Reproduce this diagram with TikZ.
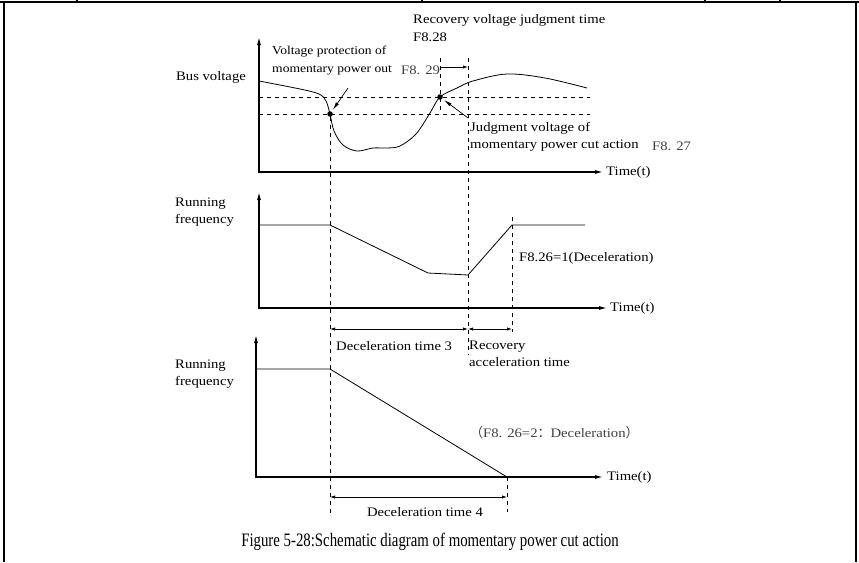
\documentclass[tikz,border=0pt]{standalone}
\usepackage{fontspec}
\setmainfont{Liberation Serif}
\newfontfamily\lblfont[FakeStretch=1.13]{Liberation Serif}
\newfontfamily\capfont[FakeStretch=0.78]{Liberation Serif}
\newfontfamily\cjk{Noto Sans CJK SC}
\usetikzlibrary{arrows,arrows.meta,positioning}

\begin{document}
\begin{tikzpicture}[
        x=1pt, y=-1pt,
        lbl/.style={
            inner sep=0pt,
            align=left,
            font=\lblfont\fontsize{13}{17.5}\selectfont
        },
        smalllbl/.style={
            lbl,
            font=\lblfont\fontsize{12}{18}\selectfont
        },
        note/.style={lbl, text=black!75},
        dot/.style={circle, fill, inner sep=0pt, minimum size=5.5pt},
        axes/.style={draw, line width=1.1pt, {Latex[length=8pt,width=4pt]}-{Latex[length=8pt,width=4pt]}},
        curve/.style={draw, line width=0.8pt},
        guide/.style={draw, line width=0.6pt, dash pattern=on 4pt off 4pt},
        dim/.style={draw, line width=0.7pt, {Latex[length=5pt,width=3.2pt]}-{Latex[length=5pt,width=3.2pt]}},
        pointer/.style={draw, line width=0.7pt, -{Latex[length=8pt,width=3.5pt]}, shorten >=2pt}
    ]
        % -- Ramka (Frame) --
        \useasboundingbox (0,0) rectangle (859,562);
        \draw[line width=2pt] (0,2) -- (859,2);
        \draw[line width=2pt] (4,2) -- (4,562);
        \draw[line width=2pt] (856,2) -- (856,562);
        \foreach \t in {77,422,705,780}
            \draw[line width=1.5pt] (\t,0) -- (\t,2);

        % -- Osie (Axes) --
        \coordinate (v0) at (259,172);
        \coordinate (f0) at (259,308);
        \coordinate (g0) at (256,477);
        \draw[axes] (259,37) -- (v0) -- (603,172) coordinate (vend);
        \draw[axes] (259,192) -- (f0) -- (607,308) coordinate (fend);
        \draw[axes] (256,335) -- (g0) -- (603,477) coordinate (gend);

        \node[lbl, right=3pt of vend] (vtime) {Time(t)};
        \node[lbl, right=3pt of fend] (ftime) {Time(t)};
        \node[lbl, right=4pt of gend] (gtime) {Time(t)};

        \node[lbl] (busv) at (211,77) {Bus voltage};
        \node[lbl, anchor=west] (runf) at (175,212) {Running\\frequency};
        \node[lbl, anchor=west] (rung) at (175,374) {Running\\frequency};

        % -- Napięcie (Bus voltage) --
        \draw[guide] (259,97) -- (590,97);
        \draw[guide] (259,114) -- (590,114);
        \draw[curve] plot[smooth, tension=0.55] coordinates {
            (259,81) (300,89) (319,94) (326,101) (330,114) (334,131)
            (343,145) (357,151) (373,148) (387,148) (400,146) (416,134)
            (430,113) (440,97) (457,88) (473,81) (507,74) (545,78) (587,88)};
        \node[dot] (cut) at (330,114) {};
        \node[dot] (back) at (440,97) {};

        % -- Opisy (Labels) --
        \node[smalllbl, anchor=west] (prot) at (272,61) {Voltage protection of\\momentary power out};
        \node[note, anchor=west] (f829) at (401,70) {F8. 29};
        \node[lbl, anchor=west] (recj) at (413,20) {Recovery voltage judgment time};
        \node[lbl, anchor=west] (f828) at (413,37) {F8.28};
        \node[lbl, anchor=west] (judg) at (470,137) {Judgment voltage of\\momentary power cut action};
        \node[note, anchor=west] (f827) at (652,146) {F8. 27};

        \coordinate (p1) at (348,88);
        \coordinate (p2) at (468,118);
        \path[pointer] (p1) -- (cut);
        \path[pointer] (p2) -- (back);

        % -- Linie pomocnicze (Guides) --
        \draw[guide] (cut) -- (330,513);
        \draw[guide] (440,58) -- (440,114);
        \draw[guide] (468,58) -- (468,355);
        \draw[guide] (512,217) -- (512,332);
        \draw[guide] (507,477) -- (507,512);
        \draw[line width=0.7pt, -{Latex[length=5pt,width=3.2pt]}] (440,67) -- (468,67);

        % -- Częstotliwość (Running frequency) --
        \draw[curve] (259,225) -- (330,225) -- (428,273) -- (468,275) -- (512,225) -- (585,225);
        \node[lbl, anchor=west] (f826a) at (519,258) {F8.26=1(Deceleration)};

        \draw[dim] (330,329) -- (468,329);
        \draw[dim] (468,329) -- (512,329);
        \node[lbl, anchor=west] (dec3) at (336,346) {Deceleration time 3};
        \node[lbl, anchor=west] (racc) at (469,354) {Recovery\\acceleration time};

        \draw[curve] (256,369) -- (330,369) -- (507,477);
        \node[note, anchor=west] (f826b) at (470,433) {{\cjk （}F8. 26=2{\cjk ：}Deceleration{\cjk ）}};

        \draw[dim] (330,497) -- (507,497);
        \node[lbl] (dec4) at (425,512) {Deceleration time 4};

        % -- Podpis (Caption) --
        \node[font=\capfont\fontsize{19}{21}\selectfont] (caption) at (430,542)
            {Figure 5-28:Schematic diagram of momentary power cut action};

    \end{tikzpicture}
\end{document}
